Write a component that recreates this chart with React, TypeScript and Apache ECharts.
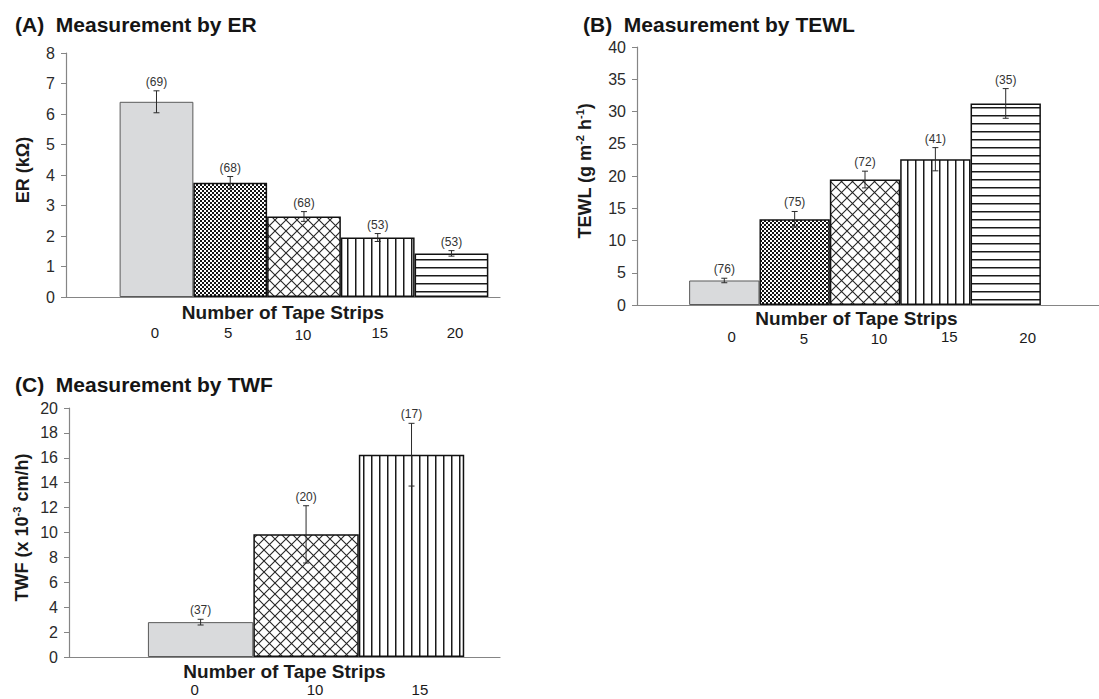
import React, { useEffect, useRef } from 'react';
import * as echarts from 'echarts';

const FONT = '"Liberation Sans", Arial, Helvetica, sans-serif';

// ---------- Data ----------
const erCategories = ['0', '5', '10', '15', '20'];
const erMeans = [6.4, 3.75, 2.64, 1.95, 1.43];
const erErrors = [0.36, 0.2, 0.16, 0.13, 0.09];
const erCounts = [69, 68, 68, 53, 53];
const erPatterns = ['solid', 'checker', 'diamond', 'vertical', 'horizontal'];
const erTicks = { min: 0, max: 8, interval: 1 };

const tewlCategories = ['0', '5', '10', '15', '20'];
const tewlMeans = [3.8, 13.3, 19.45, 22.6, 31.25];
const tewlErrors = [0.35, 1.2, 1.3, 1.8, 2.3];
const tewlCounts = [76, 75, 72, 41, 35];
const tewlPatterns = ['solid', 'checker', 'diamond', 'vertical', 'horizontal'];
const tewlTicks = { min: 0, max: 40, interval: 5 };

const twfCategories = ['0', '10', '15'];
const twfMeans = [2.8, 9.85, 16.25];
const twfErrors = [0.23, 2.3, 2.52];
const twfCounts = [37, 20, 17];
const twfPatterns = ['solid', 'diamond', 'vertical'];
const twfTicks = { min: 0, max: 20, interval: 2 };

const xAxisTitle = 'Number of Tape Strips';

// ---------- Patterns ----------
function makeTile(kind: string): HTMLCanvasElement {
  const c = document.createElement('canvas');
  const ctx = c.getContext('2d') as CanvasRenderingContext2D;
  if (kind === 'checker') {
    c.width = 4; c.height = 4;
    ctx.fillStyle = '#ffffff'; ctx.fillRect(0, 0, 4, 4);
    ctx.fillStyle = '#151515';
    ctx.fillRect(0, 0, 2, 2); ctx.fillRect(2, 2, 2, 2);
  } else if (kind === 'diamond') {
    const s = 11;
    c.width = s; c.height = s;
    ctx.fillStyle = '#ffffff'; ctx.fillRect(0, 0, s, s);
    ctx.strokeStyle = '#262626'; ctx.lineWidth = 1.1;
    ctx.beginPath();
    ctx.moveTo(-1, -1); ctx.lineTo(s + 1, s + 1);
    ctx.moveTo(s + 1, -1); ctx.lineTo(-1, s + 1);
    ctx.stroke();
  } else if (kind === 'vertical') {
    c.width = 8; c.height = 8;
    ctx.fillStyle = '#ffffff'; ctx.fillRect(0, 0, 8, 8);
    ctx.fillStyle = '#1a1a1a'; ctx.fillRect(3, 0, 1.5, 8);
  } else {
    c.width = 8; c.height = 8;
    ctx.fillStyle = '#ffffff'; ctx.fillRect(0, 0, 8, 8);
    ctx.fillStyle = '#1a1a1a'; ctx.fillRect(0, 3, 8, 1.5);
  }
  return c;
}

function fillFor(kind: string, cache: Record<string, any>) {
  if (kind === 'solid') return '#d9dadc';
  if (!cache[kind]) cache[kind] = { image: makeTile(kind), repeat: 'repeat' };
  return cache[kind];
}

// ---------- Layout ----------
interface Panel {
  title: string; titleLeft: number; titleTop: number;
  left: number; top: number; width: number; height: number;
  xMin: number; xMax: number; barWidth: number;
  yName: string; yGap: number; xGap: number; xNamePad: number[];
  labelDistance: number; labelOffsets: number[][];
  categories: string[]; means: number[]; errors: number[]; counts: number[]; patterns: string[];
  ticks: { min: number; max: number; interval: number };
}

const panels: Panel[] = [
  {
    title: '(A)\u00A0 Measurement by ER', titleLeft: 15, titleTop: 14,
    left: 66, top: 53, width: 434, height: 244,
    xMin: -1.227, xMax: 4.658, barWidth: 73.75,
    yName: '{b|ER (kΩ)}', yGap: 32, xGap: 6, xNamePad: [0, 0, 0, 0],
    labelDistance: 28, labelOffsets: [[-1.5, 0], [-2, 0], [-1, 1.6], [2, 0], [3.5, 0]],
    categories: erCategories, means: erMeans, errors: erErrors, counts: erCounts, patterns: erPatterns, ticks: erTicks,
  },
  {
    title: '(B)\u00A0 Measurement by TEWL', titleLeft: 583, titleTop: 14,
    left: 637, top: 47, width: 462, height: 258,
    xMin: -1.241, xMax: 5.326, barWidth: 70.35,
    yName: '{b|TEWL (g m}{s|-2}{b|\u00A0h}{s|-1}{b|)}', yGap: 41, xGap: 3.5, xNamePad: [0, 23, 0, 0],
    labelDistance: 25, labelOffsets: [[7.4, -0.7], [9.3, 1.3], [14, 1.3], [14, -1], [22, 0]],
    categories: tewlCategories, means: tewlMeans, errors: tewlErrors, counts: tewlCounts, patterns: tewlPatterns, ticks: tewlTicks,
  },
  {
    title: '(C)\u00A0 Measurement by TWF', titleLeft: 15, titleTop: 374,
    left: 69, top: 408, width: 431, height: 249,
    xMin: -1.248, xMax: 2.839, barWidth: 105.4,
    yName: '{b|TWF (x 10}{s|-3}{b|\u00A0cm/h)}', yGap: 36, xGap: 5, xNamePad: [0, 0, 0, 0],
    labelDistance: 25, labelOffsets: [[-6, 0], [9, 0], [8.4, 0]],
    categories: twfCategories, means: twfMeans, errors: twfErrors, counts: twfCounts, patterns: twfPatterns, ticks: twfTicks,
  },
];

function buildOption() {
  const cache: Record<string, any> = {};
  const title: any[] = [];
  const grid: any[] = [];
  const xAxis: any[] = [];
  const yAxis: any[] = [];
  const series: any[] = [];
  const axisColor = '#858585';

  panels.forEach((p, gi) => {
    title.push({
      text: p.title, left: p.titleLeft, top: p.titleTop, padding: 0,
      textStyle: { fontFamily: FONT, fontWeight: 'bold', fontSize: 21, color: '#151515' },
    });
    grid.push({ left: p.left, top: p.top, width: p.width, height: p.height, containLabel: false });
    xAxis.push({
      gridIndex: gi, type: 'value', min: p.xMin, max: p.xMax,
      axisLine: { show: true, onZero: false, lineStyle: { color: axisColor, width: 1.2 } },
      axisTick: { show: false }, axisLabel: { show: false }, splitLine: { show: false },
      name: xAxisTitle, nameLocation: 'middle', nameGap: p.xGap,
      nameTextStyle: {
        fontFamily: FONT, fontWeight: 'bold', fontSize: 19, color: '#1a1a1a',
        verticalAlign: 'top', padding: p.xNamePad,
      },
    });
    yAxis.push({
      gridIndex: gi, type: 'value', min: p.ticks.min, max: p.ticks.max, interval: p.ticks.interval,
      axisLine: { show: true, onZero: false, lineStyle: { color: axisColor, width: 1.2 } },
      axisTick: { show: true, length: 5, lineStyle: { color: axisColor, width: 1 } },
      axisLabel: { fontFamily: FONT, fontSize: 16, color: '#2a2a2a', margin: 11 },
      splitLine: { show: false },
      name: p.yName, nameLocation: 'middle', nameRotate: 90, nameGap: p.yGap,
      nameTextStyle: {
        padding: [0, 0, 0, 10],
        rich: {
          b: { fontFamily: FONT, fontWeight: 'bold', fontSize: 18, color: '#1a1a1a', lineHeight: 22 },
          s: { fontFamily: FONT, fontWeight: 'bold', fontSize: 11, color: '#1a1a1a', lineHeight: 12, verticalAlign: 'top' },
        },
      },
    });

    series.push({
      type: 'bar', xAxisIndex: gi, yAxisIndex: gi, barWidth: p.barWidth,
      data: p.means.map((v, i) => ({
        name: p.categories[i],
        value: [i, v],
        itemStyle: {
          color: fillFor(p.patterns[i], cache),
          borderColor: p.patterns[i] === 'solid' ? '#5a5a5a' : '#111111',
          borderWidth: p.patterns[i] === 'solid' ? 1 : 1.5,
        },
        label: { offset: p.labelOffsets[i] },
      })),
      label: {
        show: true, position: 'bottom', distance: p.labelDistance, formatter: '{b}',
        fontFamily: FONT, fontSize: 15, color: '#1a1a1a',
      },
      z: 2,
    });

    series.push({
      type: 'custom', xAxisIndex: gi, yAxisIndex: gi,
      data: p.means.map((v, i) => [i, v, p.errors[i], p.counts[i]]),
      z: 5,
      renderItem: (params: any, api: any) => {
        const x = api.value(0) as number;
        const m = api.value(1) as number;
        const e = api.value(2) as number;
        const n = api.value(3);
        const t = api.coord([x, m + e]);
        const b = api.coord([x, m - e]);
        const st = { stroke: '#2b2b2b', lineWidth: 1, fill: 'none' };
        return {
          type: 'group',
          children: [
            { type: 'line', shape: { x1: t[0], y1: t[1], x2: b[0], y2: b[1] }, style: st },
            { type: 'line', shape: { x1: t[0] - 3, y1: t[1], x2: t[0] + 3, y2: t[1] }, style: st },
            { type: 'line', shape: { x1: b[0] - 3, y1: b[1], x2: b[0] + 3, y2: b[1] }, style: st },
            {
              type: 'text',
              style: {
                x: t[0], y: t[1] - 9, text: '(' + n + ')', align: 'center', verticalAlign: 'middle',
                fill: '#333333', fontSize: 12, fontFamily: FONT,
              },
            },
          ],
        };
      },
    });
  });

  return { animation: false, backgroundColor: '#ffffff', title, grid, xAxis, yAxis, series };
}

export default function App() {
  const ref = useRef<HTMLDivElement>(null);
  useEffect(() => {
    if (!ref.current) return;
    const chart = echarts.init(ref.current, undefined, { renderer: 'svg' });
    chart.setOption(buildOption() as any);
    return () => chart.dispose();
  }, []);
  return (
    <div
      ref={ref}
      style={{ position: 'absolute', left: 0, top: 0, width: 1099, height: 699, background: '#fff' }}
    />
  );
}
